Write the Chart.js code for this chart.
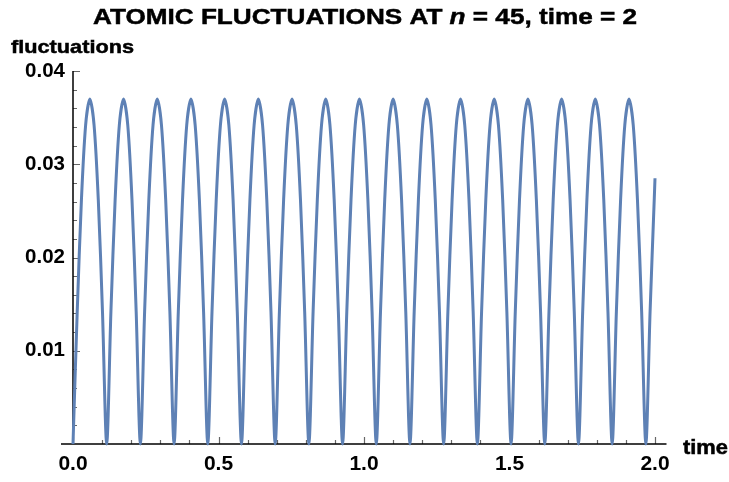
<!DOCTYPE html>
<html>
<head>
<meta charset="utf-8">
<script src="https://cdn.jsdelivr.net/npm/chart.js@4"></script>
<style>
  html, body { margin: 0; padding: 0; background: #fff; }
  #wrap { width: 729px; height: 482px; }
</style>
</head>
<body>
<div id="wrap"><canvas id="chart" width="729" height="482"></canvas></div>
<script>
// ---------- data ----------
const times = [
  0, 0.0145, 0.0290, 0.0434, 0.0579, 0.0724, 0.0869, 0.1013,
  0.1158, 0.1303, 0.1448, 0.1592, 0.1737, 0.1882, 0.2027, 0.2171,
  0.2316, 0.2461, 0.2606, 0.2750, 0.2895, 0.3040, 0.3185, 0.3329,
  0.3474, 0.3619, 0.3764, 0.3908, 0.4053, 0.4198, 0.4343, 0.4487,
  0.4632, 0.4777, 0.4922, 0.5066, 0.5211, 0.5356, 0.5501, 0.5645,
  0.5790, 0.5935, 0.6080, 0.6224, 0.6369, 0.6514, 0.6659, 0.6803,
  0.6948, 0.7093, 0.7238, 0.7382, 0.7527, 0.7672, 0.7817, 0.7961,
  0.8106, 0.8251, 0.8396, 0.8540, 0.8685, 0.8830, 0.8975, 0.9119,
  0.9264, 0.9409, 0.9554, 0.9698, 0.9843, 0.9988, 1.0133, 1.0277,
  1.0422, 1.0567, 1.0712, 1.0856, 1.1001, 1.1146, 1.1291, 1.1435,
  1.1580, 1.1725, 1.1870, 1.2014, 1.2159, 1.2304, 1.2449, 1.2593,
  1.2738, 1.2883, 1.3028, 1.3172, 1.3317, 1.3462, 1.3607, 1.3751,
  1.3896, 1.4041, 1.4186, 1.4330, 1.4475, 1.4620, 1.4765, 1.4909,
  1.5054, 1.5199, 1.5344, 1.5488, 1.5633, 1.5778, 1.5923, 1.6067,
  1.6212, 1.6357, 1.6502, 1.6646, 1.6791, 1.6936, 1.7081, 1.7225,
  1.7370, 1.7515, 1.7660, 1.7804, 1.7949, 1.8094, 1.8239, 1.8383,
  1.8528, 1.8673, 1.8818, 1.8962, 1.9107, 1.9252, 1.9397, 1.9541,
  1.9686, 1.9831, 1.9976, 2.0
];

const fluctuations = [
  0, 0.0142, 0.0262, 0.0342, 0.0370, 0.0342, 0.0262, 0.0142,
  0, 0.0142, 0.0262, 0.0342, 0.0370, 0.0342, 0.0262, 0.0142,
  0, 0.0142, 0.0262, 0.0342, 0.0370, 0.0342, 0.0262, 0.0142,
  0, 0.0142, 0.0262, 0.0342, 0.0370, 0.0342, 0.0262, 0.0142,
  0, 0.0142, 0.0262, 0.0342, 0.0370, 0.0342, 0.0262, 0.0142,
  0, 0.0142, 0.0262, 0.0342, 0.0370, 0.0342, 0.0262, 0.0142,
  0, 0.0142, 0.0262, 0.0342, 0.0370, 0.0342, 0.0262, 0.0142,
  0, 0.0142, 0.0262, 0.0342, 0.0370, 0.0342, 0.0262, 0.0142,
  0, 0.0142, 0.0262, 0.0342, 0.0370, 0.0342, 0.0262, 0.0142,
  0, 0.0142, 0.0262, 0.0342, 0.0370, 0.0342, 0.0262, 0.0142,
  0, 0.0142, 0.0262, 0.0342, 0.0370, 0.0342, 0.0262, 0.0142,
  0, 0.0142, 0.0262, 0.0342, 0.0370, 0.0342, 0.0262, 0.0142,
  0, 0.0142, 0.0262, 0.0342, 0.0370, 0.0342, 0.0262, 0.0142,
  0, 0.0142, 0.0262, 0.0342, 0.0370, 0.0342, 0.0262, 0.0142,
  0, 0.0142, 0.0262, 0.0342, 0.0370, 0.0342, 0.0262, 0.0142,
  0, 0.0142, 0.0262, 0.0342, 0.0370, 0.0342, 0.0262, 0.0142,
  0, 0.0142, 0.0262, 0.0342, 0.0370, 0.0342, 0.0262, 0.0142,
  0, 0.0142, 0.0264, 0.0285
];

const xTicks = [0, 0.5, 1.0, 1.5, 2.0];
const xMinorTicks = [0.1, 0.2, 0.3, 0.4, 0.6, 0.7, 0.8, 0.9, 1.1, 1.2, 1.3, 1.4, 1.6, 1.7, 1.8, 1.9];
const yTicks = [0.01, 0.02, 0.03, 0.04];
const yMinorTicks = [0.002, 0.004, 0.006, 0.008, 0.012, 0.014, 0.016, 0.018,
  0.022, 0.024, 0.026, 0.028, 0.032, 0.034, 0.036, 0.038];

const FONT = "'Liberation Sans', Arial, sans-serif";

// ---------- helpers ----------
// draw text stretched horizontally to a measured width
function drawFitted(ctx, parts, left, baseline, size, targetWidth) {
  let total = 0;
  for (const p of parts) {
    ctx.font = `${p.italic ? "italic " : ""}bold ${size}px ${FONT}`;
    p.w = ctx.measureText(p.text).width;
    total += p.w;
  }
  const sx = targetWidth / total;
  ctx.save();
  ctx.translate(left, baseline);
  ctx.scale(sx, 1);
  ctx.fillStyle = "#000";
  ctx.strokeStyle = "#000";
  ctx.lineWidth = 0.5;
  ctx.textBaseline = "alphabetic";
  ctx.textAlign = "left";
  let x = 0;
  for (const p of parts) {
    ctx.font = `${p.italic ? "italic " : ""}bold ${size}px ${FONT}`;
    ctx.fillText(p.text, x, 0);
    ctx.strokeText(p.text, x, 0);
    x += p.w;
  }
  ctx.restore();
}

// ---------- plugin: Mathematica-style axes + labels ----------
const axesPlugin = {
  id: "axesPlugin",
  beforeDatasetsDraw(chart) {
    const { ctx } = chart;
    const xs = chart.scales.x;
    const ys = chart.scales.y;
    const x0 = xs.getPixelForValue(0);
    const y0 = ys.getPixelForValue(0);

    ctx.save();
    // tick marks
    ctx.strokeStyle = "#666";
    ctx.lineWidth = 1.2;
    ctx.beginPath();
    for (const v of xTicks) {
      const px = Math.round(xs.getPixelForValue(v)) + 0.5;
      ctx.moveTo(px, y0);
      ctx.lineTo(px, y0 - 7);
    }
    for (const v of xMinorTicks) {
      const px = Math.round(xs.getPixelForValue(v)) + 0.5;
      ctx.moveTo(px, y0);
      ctx.lineTo(px, y0 - 4);
    }
    for (const v of yTicks) {
      const py = Math.round(ys.getPixelForValue(v)) + 0.5;
      ctx.moveTo(x0, py);
      ctx.lineTo(x0 + 7, py);
    }
    for (const v of yMinorTicks) {
      const py = Math.round(ys.getPixelForValue(v)) + 0.5;
      ctx.moveTo(x0, py);
      ctx.lineTo(x0 + 4, py);
    }
    ctx.stroke();

    // axis lines
    ctx.strokeStyle = "#000";
    ctx.lineWidth = 1.5;
    ctx.beginPath();
    ctx.moveTo(x0 - 12, y0);
    ctx.lineTo(xs.getPixelForValue(2) + 11.5, y0);
    ctx.moveTo(x0, y0);
    ctx.lineTo(x0, ys.getPixelForValue(0.04));
    ctx.stroke();
    ctx.restore();
  },
  afterDraw(chart) {
    const { ctx } = chart;
    drawFitted(ctx, [
      { text: "ATOMIC FLUCTUATIONS AT " },
      { text: "n", italic: true },
      { text: " = 45, time = 2" },
    ], 93, 23.5, 22.5, 544);
    drawFitted(ctx, [{ text: "fluctuations" }], 11, 52.5, 19, 123);
    drawFitted(ctx, [{ text: "time" }], 683, 453.5, 19.5, 45);
  },
};

// ---------- chart ----------
const points = times.map((t, i) => ({ x: t, y: fluctuations[i] }));

new Chart(document.getElementById("chart").getContext("2d"), {
  type: "line",
  data: {
    datasets: [
      {
        data: points,
        borderColor: "#5E81B5",
        borderWidth: 3,
        pointRadius: 0,
        tension: 0.3,
        fill: false,
        clip: false,
      },
    ],
  },
  options: {
    responsive: false,
    animation: false,
    events: [],
    layout: { padding: { left: 0, right: 74, top: 71, bottom: 0 } },
    plugins: { legend: { display: false }, tooltip: { enabled: false } },
    scales: {
      x: {
        type: "linear",
        min: 0,
        max: 2,
        afterBuildTicks: (s) => { s.ticks = xTicks.map((v) => ({ value: v })); },
        afterFit: (s) => { s.height = 38; },
        grid: { display: false, drawTicks: false },
        border: { display: false },
        ticks: {
          padding: 8,
          color: "#000",
          font: { family: FONT, size: 21, weight: "bold" },
          callback: (v) => v.toFixed(1),
          maxRotation: 0,
        },
      },
      y: {
        min: 0,
        max: 0.04,
        afterBuildTicks: (s) => { s.ticks = yTicks.map((v) => ({ value: v })); },
        afterFit: (s) => { s.width = 73; },
        grid: { display: false, drawTicks: false },
        border: { display: false },
        ticks: {
          padding: 8,
          color: "#000",
          font: { family: FONT, size: 20.5, weight: "bold" },
          callback: (v) => v.toFixed(2),
        },
      },
    },
  },
  plugins: [axesPlugin],
});
</script>
</body>
</html>
